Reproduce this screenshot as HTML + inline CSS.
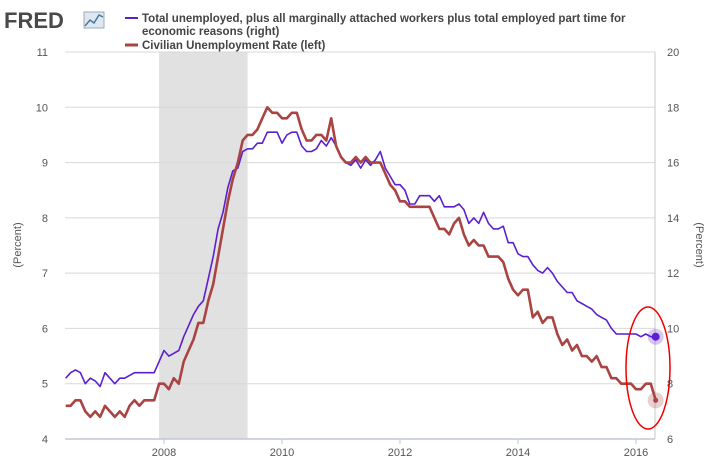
<!DOCTYPE html>
<html><head><meta charset="utf-8">
<style>
body{margin:0;background:#fff;font-family:"Liberation Sans",sans-serif;}
svg text{font-family:"Liberation Sans",sans-serif;}
</style></head>
<body>
<svg id="chart" width="712" height="463" xmlns="http://www.w3.org/2000/svg">
  <g>
    <text x="4" y="28" font-size="22" font-weight="bold" fill="#4a4a4a">FRED</text>
    <rect x="84" y="12" width="20" height="16" fill="#dfe8f0" stroke="#9ab" stroke-width="1"/>
    <polyline points="85,26 90,20 94,23 99,15 103,17" fill="none" stroke="#4a7a9a" stroke-width="1.5"/>
  </g>
  <g>
    <line x1="125" y1="18" x2="138" y2="18" stroke="#5b1fd0" stroke-width="2"/>
    <text x="142" y="22" font-size="11.5" font-weight="bold" fill="#444">Total unemployed, plus all marginally attached workers plus total employed part time for</text>
    <text x="142" y="35" font-size="11.5" font-weight="bold" fill="#444">economic reasons (right)</text>
    <line x1="125" y1="45" x2="138" y2="45" stroke="#a94442" stroke-width="3"/>
    <text x="142" y="49" font-size="11.5" font-weight="bold" fill="#444">Civilian Unemployment Rate (left)</text>
  </g>
  <g id="plot"></g>
  <text transform="translate(21,245) rotate(-90)" text-anchor="middle" font-size="11" fill="#555">(Percent)</text>
  <text transform="translate(696,245) rotate(90)" text-anchor="middle" font-size="11" fill="#555">(Percent)</text>
</svg>
<script>
const leftTicks=[4,5,6,7,8,9,10,11];
const rightTicks=[6,8,10,12,14,16,18,20];
const yearTicks=[2008,2010,2012,2014,2016];
const unrate=[4.6,4.6,4.7,4.7,4.5,4.4,4.5,4.4,
4.6,4.5,4.4,4.5,4.4,4.6,4.7,4.6,4.7,4.7,4.7,5.0,
5.0,4.9,5.1,5.0,5.4,5.6,5.8,6.1,6.1,6.5,6.8,7.3,
7.8,8.3,8.7,9.0,9.4,9.5,9.5,9.6,9.8,10.0,9.9,9.9,
9.8,9.8,9.9,9.9,9.6,9.4,9.4,9.5,9.5,9.4,9.8,9.3,
9.1,9.0,9.0,9.1,9.0,9.1,9.0,9.0,9.0,8.8,8.6,8.5,
8.3,8.3,8.2,8.2,8.2,8.2,8.2,8.0,7.8,7.8,7.7,7.9,
8.0,7.7,7.5,7.6,7.5,7.5,7.3,7.3,7.3,7.2,6.9,6.7,
6.6,6.7,6.7,6.2,6.3,6.1,6.2,6.2,5.9,5.7,5.8,5.6,
5.7,5.5,5.5,5.4,5.5,5.3,5.3,5.1,5.1,5.0,5.0,5.0,
4.9,4.9,5.0,5.0,4.7];
const u6=[8.2,8.4,8.5,8.4,8.0,8.2,8.1,7.9,
8.4,8.2,8.0,8.2,8.2,8.3,8.4,8.4,8.4,8.4,8.4,8.8,
9.2,9.0,9.1,9.2,9.7,10.1,10.5,10.8,11.0,11.8,12.6,13.6,
14.2,15.1,15.7,15.8,16.4,16.5,16.5,16.7,16.7,17.1,17.1,17.1,
16.7,17.0,17.1,17.1,16.6,16.4,16.4,16.5,16.8,16.6,16.9,16.6,
16.2,16.0,15.9,16.1,15.8,16.1,15.9,16.1,16.4,15.8,15.5,15.2,
15.2,15.0,14.5,14.5,14.8,14.8,14.8,14.6,14.8,14.4,14.4,14.4,
14.5,14.3,13.8,14.0,13.8,14.2,13.8,13.6,13.6,13.7,13.1,13.1,
12.7,12.6,12.6,12.3,12.1,12.0,12.2,12.0,11.7,11.5,11.3,11.3,
11.0,10.9,10.8,10.7,10.5,10.4,10.3,10.0,9.8,9.8,9.8,9.8,
9.8,9.7,9.8,9.7,9.7];
const startYear=2006+4/12;
const recession=[2007+11/12,2009+5/12];

const NS="http://www.w3.org/2000/svg";
const L=65,R=655,T=52,B=439;
const pxPerYear=(636-164)/8;
const x=t=>164+(t-2008)*pxPerYear;
const yL=v=>B-(v-4)/(11-4)*(B-T);
const yR=v=>B-(v-6)/(20-6)*(B-T);
const g=document.getElementById('plot');
function mk(tag,attrs){const e=document.createElementNS(NS,tag);for(const k in attrs)e.setAttribute(k,attrs[k]);g.appendChild(e);return e;}

let e=mk('rect',{x:x(recession[0]),y:T,width:x(recession[1])-x(recession[0]),height:B-T,fill:'#e1e1e1'});



leftTicks.forEach(v=>{
  let l=mk('line',{x1:L,x2:R,y1:yL(v),y2:yL(v),stroke:v===4?'#c0c8d0':'#d8d8d8','stroke-width':v===4?1.5:1});
  
  
  let t=mk('text',{x:48,y:yL(v)+4,'text-anchor':'end','font-size':11,fill:'#555'});
  t.textContent=v;
  
  
});
rightTicks.forEach(v=>{
  let t=mk('text',{x:667,y:yR(v)+4,'font-size':11,fill:'#555'});
  t.textContent=v;
  
  
});
e=mk('line',{x1:R,x2:R,y1:T,y2:B,stroke:'#c8c8c8'});


yearTicks.forEach(yr=>{
  let l=mk('line',{x1:x(yr),x2:x(yr),y1:B,y2:B+5,stroke:'#c0c8d0'});
  
  
  let t=mk('text',{x:x(yr),y:456,'text-anchor':'middle','font-size':11,fill:'#555'});
  t.textContent=yr;
  
  
});
function pts(arr,yf){return arr.map((v,i)=>x(startYear+i/12).toFixed(1)+','+yf(v).toFixed(1)).join(' ');}
e=mk('polyline',{points:pts(u6,yR),fill:'none',stroke:'#5b1fd0','stroke-width':1.6,'stroke-linejoin':'round'});


e=mk('polyline',{points:pts(unrate,yL),fill:'none',stroke:'#a94442','stroke-width':2.6,'stroke-linejoin':'round'});


const lx=x(startYear+(u6.length-1)/12);
e=mk('circle',{cx:lx,cy:yR(u6[u6.length-1]),r:8,fill:'#5b1fd0','fill-opacity':0.25});


e=mk('circle',{cx:lx,cy:yR(u6[u6.length-1]),r:4,fill:'#5b1fd0'});


e=mk('circle',{cx:lx,cy:yL(unrate[unrate.length-1]),r:8,fill:'#a94442','fill-opacity':0.25});


e=mk('circle',{cx:lx,cy:yL(unrate[unrate.length-1]),r:2.5,fill:'#a94442'});


e=mk('ellipse',{cx:648,cy:368,rx:22,ry:61,fill:'none',stroke:'#e00','stroke-width':1.5});


</script>
</body></html>
